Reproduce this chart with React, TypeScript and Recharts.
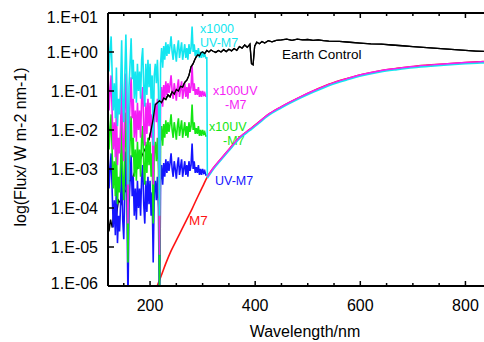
import React from 'react';
import { LineChart, Line, XAxis, YAxis, Customized } from 'recharts';

// UV-M7 spectrum, log10 flux
const uvNm = [
  120, 122, 124, 126, 128, 130, 132, 134, 136, 138, 140, 142, 144, 146, 148, 150, 152, 154, 156, 158,
  160, 162, 164, 166, 168, 170, 172, 174, 176, 178, 180, 182, 184, 186, 188, 190, 192, 194, 196, 198,
  200, 202, 204, 206, 208, 210, 212, 214, 216, 218, 220, 222, 224, 226, 228, 230, 232, 234, 236, 238,
  240, 242, 244, 246, 248, 250, 252, 254, 256, 258, 260, 262, 264, 266, 268, 270, 272, 274, 276, 278,
  280, 282, 284, 286, 288, 290, 292, 294, 296, 298, 300, 302, 304, 306, 308,
];
const uvM7Log = [
  -2.3, -3.5, -3.0, -2.6, -3.6, -4.5, -3.8, -4.7, -3.4, -4.9, -4.2, -4.6, -3.9, -2.7, -4.3, -4.8, -3.6, -2.55, -3.8, -6.4,
  -3.9, -3.3, -2.65, -3.7, -3.2, -4.2, -3.5, -4.3, -3.3, -4.0, -3.5, -4.2, -3.2, -2.9, -3.9, -4.4, -3.3, -4.1, -3.2, -3.9,
  -3.3, -4.2, -3.6, -5.4, -3.6, -3.3, -3.8, -3.2, -4.0, -7.2, -3.3, -2.9, -3.4, -2.85, -3.2, -2.75, -3.1, -2.8, -3.05, -2.85,
  -2.6, -3.0, -3.2, -2.8, -3.0, -3.25, -2.9, -2.7, -3.15, -2.95, -2.75, -3.2, -3.0, -2.8, -3.15, -2.9, -3.2, -2.8, -3.05, -2.9,
  -2.35, -3.0, -2.8, -3.1, -2.95, -3.1, -2.9, -3.15, -3.0, -3.15, -3.0, -3.1, -3.05, -3.15, -3.15,
];

// M7 star, smooth curve
const m7Nm = [
  212, 220, 230, 240, 250, 260, 270, 280, 290, 300, 309, 320, 333, 350, 371, 390, 405, 423, 450, 486,
  510, 540, 575, 605, 638, 670, 701, 735, 766, 800, 829, 860, 900,
];
const m7Log = [
  -6.05, -5.78, -5.42, -5.1, -4.83, -4.56, -4.29, -4.02, -3.73, -3.45, -3.2, -2.98, -2.77, -2.5, -2.18, -1.98, -1.82, -1.62, -1.4, -1.15,
  -1.0, -0.83, -0.68, -0.57, -0.48, -0.42, -0.37, -0.33, -0.3, -0.27, -0.25, -0.23, -0.21,
];
// cyan copy of the visible part, sits a hair below the magenta one
const cyanTailLog = [
  -3.23, -3.01, -2.8, -2.53, -2.21, -2.01, -1.85, -1.65, -1.43, -1.18, -1.03, -0.86, -0.71, -0.6, -0.51, -0.45,
  -0.4, -0.36, -0.33, -0.3, -0.28, -0.26, -0.24,
];

const earthNm = [
  120, 122, 125, 128, 132, 136, 140, 145, 150, 155, 160, 165, 170, 175, 180, 185, 190, 194, 198, 202,
  206, 210, 214, 218, 222, 226, 230, 234, 238, 242, 246, 250, 254, 258, 262, 266, 270, 274, 278, 282,
  285, 288, 291, 294, 297, 300, 304, 308, 312, 316, 320, 325, 330, 335, 340, 345, 350, 355, 360, 365,
  370, 375, 380, 385, 390, 393, 396, 399, 403, 408, 413, 418, 425, 432, 440, 450, 460, 470, 480, 490,
  500, 510, 520, 530, 540, 560, 580, 600, 620, 640, 660, 680, 700, 720, 740, 760, 780, 800, 820, 840,
  860, 880, 900,
];
const earthLog = [
  -4.1, -4.6, -4.3, -4.5, -4.0, -4.2, -3.8, -3.9, -3.5, -3.6, -3.3, -3.3, -3.1, -3.0, -2.8, -2.65, -2.5, -2.4, -2.25, -2.0,
  -1.7, -1.35, -1.3, -1.25, -1.3, -1.18, -1.22, -1.1, -1.15, -1.02, -1.08, -0.96, -1.0, -0.88, -0.9, -0.78, -0.72, -0.6, -0.38, -0.3,
  -0.2, -0.12, -0.07, -0.1, -0.02, 0.0, -0.04, 0.04, 0.0, 0.05, 0.02, -0.01, 0.04, 0.0, 0.06, 0.01, 0.07, 0.03, 0.09, 0.04,
  0.14, 0.1, 0.18, 0.12, 0.2, -0.3, -0.33, 0.15, 0.25, 0.21, 0.27, 0.23, 0.29, 0.26, 0.3, 0.31, 0.33, 0.3, 0.33, 0.31,
  0.32, 0.3, 0.31, 0.29, 0.28, 0.27, 0.25, 0.23, 0.21, 0.2, 0.18, 0.16, 0.14, 0.12, 0.1, 0.08, 0.06, 0.04, 0.025, 0.01,
  -0.01, -0.03, -0.05,
];

const xTicks = [150, 200, 250, 300, 350, 400, 450, 500, 550, 600, 650, 700, 750, 800, 850, 900];
const xLabelled = [200, 400, 600, 800];
const yTicks = [-6, -5, -4, -3, -2, -1, 0, 1];

const FONT = '"Liberation Sans", Arial, sans-serif';
const C = { cyan: '#14e6f0', magenta: '#f51ef5', green: '#14e614', blue: '#1414ff', red: '#ff1414', black: '#000' };

const pts = (nm: number[], v: number[], shift = 0) => nm.map((x, i) => ({ nm: x, v: v[i] + shift }));

const m7 = pts(m7Nm, m7Log);
const tailStart = m7Nm.indexOf(309);
const m7Tail = m7.slice(tailStart);
const cyanTail = pts(m7Nm.slice(tailStart), cyanTailLog);
const blue = pts(uvNm, uvM7Log);
const green = pts(uvNm, uvM7Log, 1); // x10
const magenta = pts(uvNm.slice(0, -1), uvM7Log.slice(0, -1), 2); // x100
const cyan = [...pts(uvNm, uvM7Log, 3), m7[tailStart]]; // x1000, drops to the M7 curve
const earth = pts(earthNm, earthLog);
// far-UV part of the Earth trace sits under the coloured spectra, the rest on top
const earthTop = earth.filter((p) => p.nm >= 198);

const fmtY = (v: number) => `1.E${v >= 0 ? '+' : '-'}${String(Math.abs(v)).padStart(2, '0')}`;

function YTick({ x, y, payload }: any) {
  const v = payload.value;
  const dy = v === 1 ? 4.5 : v === -6 ? -3 : 0;
  return (
    <g>
      <line x1={x} x2={x + 6} y1={y} y2={y} stroke="#000" strokeWidth={1.5} />
      <text x={x - 10} y={y + dy + 5.8} textAnchor="end" fontSize={16} fontFamily={FONT} fill="#000">
        {fmtY(v)}
      </text>
    </g>
  );
}

function BottomTick({ x, y, payload }: any) {
  const major = xLabelled.includes(payload.value);
  return (
    <g>
      <line x1={x} x2={x} y1={y} y2={y - (major ? 5 : 3)} stroke="#000" strokeWidth={1.5} />
      {major && (
        <text x={x} y={y + 24.7} textAnchor="middle" fontSize={16} fontFamily={FONT} fill="#000">
          {payload.value}
        </text>
      )}
    </g>
  );
}

function TopTick({ x, y, payload }: any) {
  const major = xLabelled.includes(payload.value);
  return <line x1={x} x2={x} y1={y} y2={y + (major ? 5 : 3)} stroke="#000" strokeWidth={1.5} />;
}

function Notes() {
  const t = (x: number, y: number, fill: string, s: string, size = 12.5) => (
    <text key={s + y} x={x} y={y} fill={fill} fontSize={size} fontFamily={FONT}>
      {s}
    </text>
  );
  return (
    <g>
      {t(200, 32.5, C.cyan, 'x1000')}
      {t(200, 47, C.cyan, 'UV-M7')}
      {t(282, 59, C.black, 'Earth Control', 13.5)}
      {t(213, 94.5, C.magenta, 'x100UV')}
      {t(225, 109, C.magenta, '-M7')}
      {t(209, 130.5, C.green, 'x10UV')}
      {t(223, 145, C.green, '-M7')}
      {t(215, 185, C.blue, 'UV-M7')}
      {t(189, 225, C.red, 'M7', 13.5)}
      <text x={305} y={337} textAnchor="middle" fontSize={16} fontFamily={FONT} fill="#000">
        Wavelength/nm
      </text>
      <text
        x={26}
        y={147}
        transform="rotate(-90 26 147)"
        textAnchor="middle"
        fontSize={16}
        fontFamily={FONT}
        fill="#000"
      >
        log(Flux/ W m-2 nm-1)
      </text>
    </g>
  );
}

export default function App() {
  const line = (key: string, data: any[], color: string, width = 1.6, type: any = 'linear') => (
    <Line
      key={key}
      data={data}
      dataKey="v"
      type={type}
      stroke={color}
      strokeWidth={width}
      dot={false}
      activeDot={false}
      isAnimationActive={false}
    />
  );
  return (
    <div style={{ position: 'absolute', left: 0, top: 0, width: 484, height: 342, overflow: 'hidden', background: '#fff' }}>
      <LineChart width={520} height={342} margin={{ top: 0, right: 2, bottom: 0, left: 0 }}>
        <XAxis
          dataKey="nm"
          type="number"
          domain={[120, 900]}
          allowDataOverflow
          ticks={xTicks}
          tick={<BottomTick />}
          tickSize={0}
          tickMargin={0}
          tickLine={false}
          axisLine={{ stroke: '#000', strokeWidth: 2 }}
          height={56}
          interval={0}
        />
        <XAxis
          xAxisId="top"
          orientation="top"
          dataKey="nm"
          type="number"
          domain={[120, 900]}
          allowDataOverflow
          ticks={xTicks}
          tick={<TopTick />}
          tickSize={0}
          tickMargin={0}
          tickLine={false}
          axisLine={{ stroke: '#000', strokeWidth: 2 }}
          height={13}
          interval={0}
        />
        <YAxis
          type="number"
          domain={[-6, 1]}
          allowDataOverflow
          ticks={yTicks}
          tick={<YTick />}
          tickSize={0}
          tickMargin={0}
          tickLine={false}
          axisLine={{ stroke: '#000', strokeWidth: 2 }}
          width={108}
          interval={0}
        />
        {line('earthUnder', earth, C.black, 1.3)}
        {line('m7', m7, C.red, 1.6, 'monotone')}
        {line('blue', blue, C.blue)}
        {line('green', green, C.green)}
        {line('magenta', magenta, C.magenta)}
        {line('cyan', cyan, C.cyan)}
        {line('cyanTail', cyanTail, C.cyan, 1.8, 'monotone')}
        {line('magentaTail', m7Tail, C.magenta, 1.4, 'monotone')}
        {line('earth', earthTop, C.black, 1.3)}
        <Customized component={Notes} />
      </LineChart>
    </div>
  );
}
